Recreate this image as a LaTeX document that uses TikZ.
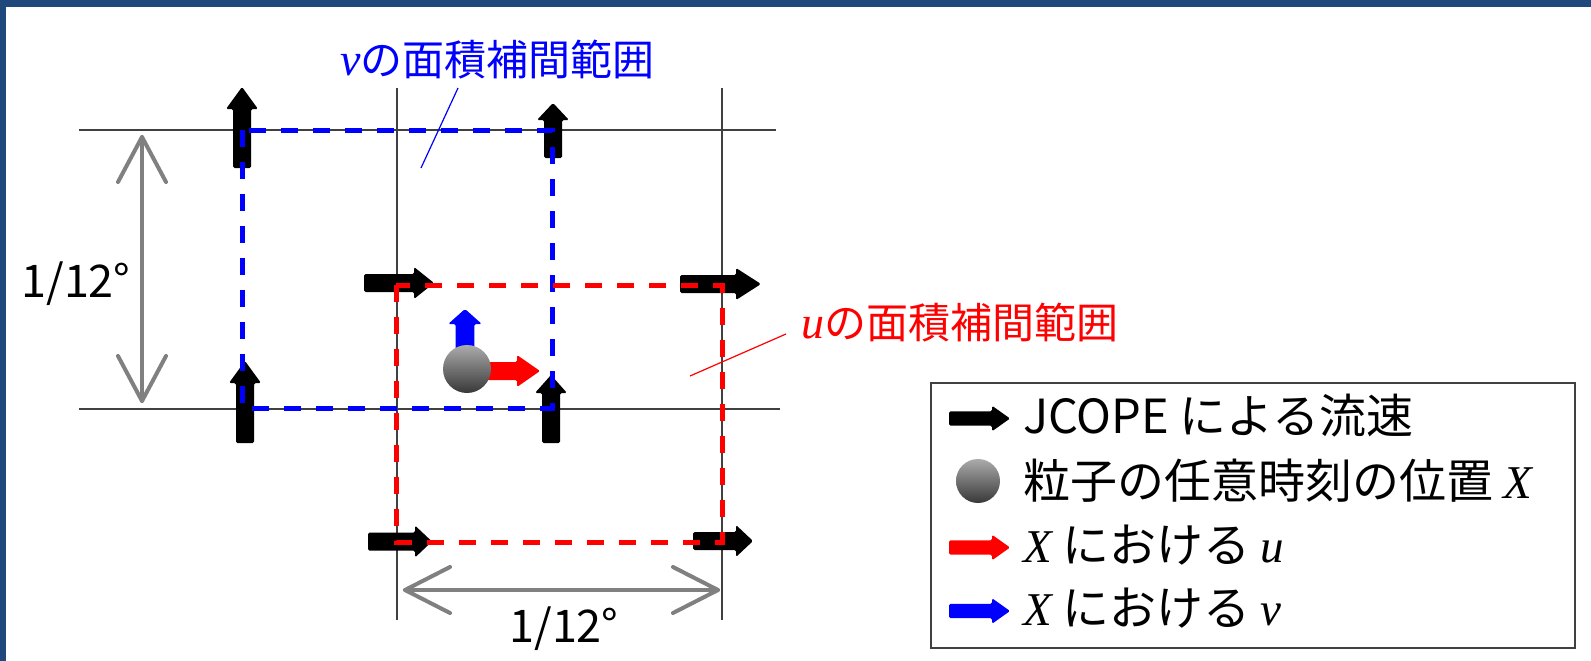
\documentclass[tikz,border=0pt]{standalone}
\usepackage{fontspec}
\setmainfont{Noto Sans CJK JP}
\newfontfamily\tnr{Liberation Serif}
\definecolor{frameblue}{HTML}{1F497D}
\definecolor{dimgray}{HTML}{808080}
\newcommand{\harr}[6]{% color, xs, xt, y, headlen, scale(half widths)
  \fill[#1,rounded corners=1.5pt] (#2,{#4-9*#6}) -- ({#3-#5},{#4-9*#6}) -- ({#3-#5},{#4-16*#6}) -- (#3,#4) -- ({#3-#5},{#4+16*#6}) -- ({#3-#5},{#4+9*#6}) -- (#2,{#4+9*#6}) -- cycle;}
\newcommand{\varr}[6]{% color, x, ys, yt, headlen, scale
  \fill[#1,rounded corners=1.5pt] ({#2-9*#6},#3) -- ({#2-9*#6},{#4+#5}) -- ({#2-16*#6},{#4+#5}) -- (#2,#4) -- ({#2+16*#6},{#4+#5}) -- ({#2+9*#6},{#4+#5}) -- ({#2+9*#6},#3) -- cycle;}
\begin{document}
\begin{tikzpicture}[x=1pt,y=-1pt,
  gridline/.style={line width=1.2pt, black!75},
  bluedash/.style={line width=5pt, blue, dash pattern=on 17pt off 15pt},
  reddash/.style={line width=5pt, red, dash pattern=on 17pt off 15pt},
  dimline/.style={line width=4pt, dimgray, line cap=round, line join=round},
  lbl/.style={inner sep=0pt, anchor=base west, font=\fontsize{42}{50}\selectfont},
  dimlbl/.style={inner sep=0pt, anchor=base, font=\fontsize{45}{52}\selectfont},
  legtxt/.style={inner sep=0pt, anchor=base west, font=\fontsize{47}{54}\selectfont},
  sphere/.style={top color=black!33, bottom color=black!78}
]
\useasboundingbox (0,0) rectangle (1591,661);
\fill[white] (0,0) rectangle (1591,661);
\fill[frameblue] (0,0) rectangle (1591,7);
\fill[frameblue] (0,0) rectangle (6,661);

% grid lines
\draw[gridline] (79,130) -- (776,130);
\draw[gridline] (79,409) -- (780,409);
\draw[gridline] (397,88) -- (397,620);
\draw[gridline] (722,88) -- (722,620);

% black velocity arrows (JCOPE)
\varr{black}{242}{168}{87}{22}{1}
\varr{black}{553}{158}{103}{17}{1}
\varr{black}{245}{443}{361}{22}{1}
\varr{black}{551}{443}{375}{18}{1}
\harr{black}{364}{434}{283}{20}{1}
\harr{black}{680}{761}{284}{25}{1}
\harr{black}{368}{432}{541.5}{17}{1}
\harr{black}{693}{753}{541}{17}{1}

% interpolation areas
\coordinate (vA) at (242,130);
\coordinate (vB) at (552,408);
\coordinate (uA) at (396,285);
\coordinate (uB) at (722,542);
\draw[bluedash] (vA) rectangle (vB);
\draw[reddash] (uA) rectangle (uB);

% labels and leaders
\node[lbl, text=blue] (vlabel) at (340,76) {{\tnr\itshape\fontsize{46}{50}\selectfont v}の面積補間範囲};
\node[lbl, text=red] (ulabel) at (801,338) {{\tnr\itshape\fontsize{46}{50}\selectfont u}の面積補間範囲};
\coordinate (vlead) at (421,168);
\coordinate (vleadtop) at (458,88);
\coordinate (ulead) at (690,376);
\coordinate (uleadtop) at (786,334);
\draw[blue, line width=1.2pt] (vleadtop) -- (vlead);
\draw[red, line width=1.2pt] (uleadtop) -- (ulead);

% particle with u and v
\harr{red}{467}{540}{371}{23}{1}
\varr{blue}{465}{369}{309}{15}{1.05}
\shade[sphere] (467,369) circle (24);

% dimension arrows
\coordinate (dT) at (142,137);
\coordinate (dB) at (142,401);
\draw[dimline] (dT) -- (dB);
\draw[dimline] (118,182) -- (dT) -- (166,182);
\draw[dimline] (118,356) -- (dB) -- (166,356);
\coordinate (dL) at (405,590);
\coordinate (dR) at (718,590);
\draw[dimline] (dL) -- (dR);
\draw[dimline] (450,567) -- (dL) -- (450,613);
\draw[dimline] (673,567) -- (dR) -- (673,613);
\node[dimlbl] (dimv) at (76,297) {1/12°};
\node[dimlbl] (dimh) at (564,642) {1/12°};

% legend
\draw[line width=2pt, black!75] (931,383) rectangle (1575,648);
\harr{black}{949}{1010}{418.5}{18}{0.8}
\shade[sphere] (978,481) circle (22);
\harr{red}{949}{1010}{547.5}{18}{0.8}
\harr{blue}{949}{1010}{611}{18}{0.8}
\node[legtxt] (leg1) at (1023,433) {JCOPE による流速};
\node[legtxt] (leg2) at (1023,498) {粒子の任意時刻の位置 {\tnr\itshape X}};
\node[legtxt] (leg3) at (1023,562) {{\tnr\itshape X} における {\tnr\itshape u}};
\node[legtxt] (leg4) at (1023,625) {{\tnr\itshape X} における {\tnr\itshape v}};
\end{tikzpicture}
\end{document}
